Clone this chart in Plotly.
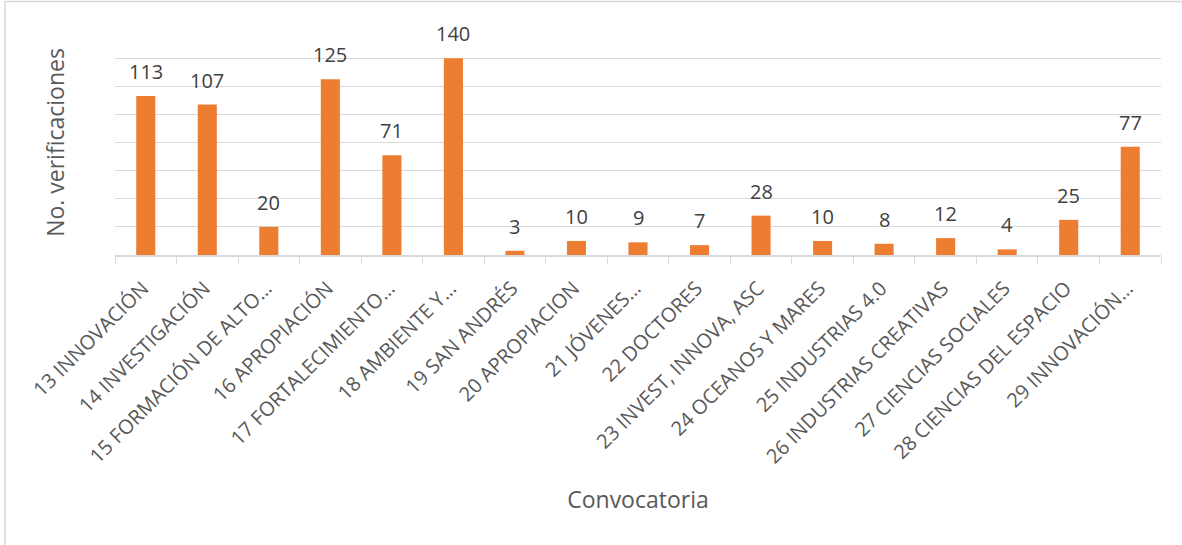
import plotly.graph_objects as go

categories = [
    "13 INNOVACIÓN", "14 INVESTIGACIÓN", "15 FORMACIÓN DE ALTO…", "16 APROPIACIÓN",
    "17 FORTALECIMIENTO…", "18 AMBIENTE Y…", "19 SAN ANDRÉS", "20 APROPIACION",
    "21 JÓVENES…", "22 DOCTORES", "23 INVEST, INNOVA, ASC", "24 OCEANOS Y MARES",
    "25 INDUSTRIAS 4.0", "26 INDUSTRIAS CREATIVAS", "27 CIENCIAS SOCIALES",
    "28 CIENCIAS DEL ESPACIO", "29 INNOVACIÓN…",
]
values = [113, 107, 20, 125, 71, 140, 3, 10, 9, 7, 28, 10, 8, 12, 4, 25, 77]

y_title = "No. verificaciones"
x_title = "Convocatoria"

W, H = 1182, 545
ML, MR, MT, MB = 115, 21, 30, 290
pw = W - ML - MR
ph = H - MT - MB

fig = go.Figure()
fig.add_trace(go.Bar(
    x=categories, y=values,
    marker=dict(color="#ED7D31", line=dict(width=0)),
    hoverinfo="x+y",
))

annotations = []
for c, v in zip(categories, values):
    annotations.append(dict(
        x=c, y=v, xref="x", yref="y", text=str(v), showarrow=False,
        yanchor="bottom", yshift=9,
        font=dict(family="Open Sans", size=20, color="#404040"),
    ))

fig.update_layout(
    width=W, height=H,
    margin=dict(l=ML, r=MR, t=MT, b=MB, pad=0, autoexpand=False),
    paper_bgcolor="white", plot_bgcolor="white",
    bargap=0.69,
    showlegend=False,
    annotations=annotations,
    font=dict(family="Open Sans", color="#595959"),
)
fig.update_yaxes(
    range=[0, 160], dtick=20, showticklabels=False,
    showgrid=True, gridcolor="#D9D9D9", gridwidth=1.3,
    zeroline=False, showline=False, ticks="",
    title=dict(text=y_title, font=dict(family="Open Sans", size=23, color="#595959"), standoff=42),
)
fig.update_xaxes(
    tickangle=-45, tickfont=dict(family="Open Sans", size=20, color="#595959"),
    ticklabelstandoff=12, ticklabelshift=-3,
    showline=True, linecolor="#D9D9D9", linewidth=1.5,
    ticks="outside", tickson="boundaries", ticklen=7, tickcolor="#D9D9D9", tickwidth=1.3,
    showgrid=False, automargin=False,
    title=dict(text=x_title, font=dict(family="Open Sans", size=23, color="#595959"), standoff=24),
)

# chart area border
fig.add_shape(
    type="rect", xref="paper", yref="paper",
    x0=(5 - ML) / pw, x1=(1190 - ML) / pw,
    y0=(MT + ph - 550) / ph, y1=(MT + ph - 1.5) / ph,
    line=dict(color="#D9D9D9", width=1.5), fillcolor="rgba(0,0,0,0)", layer="below",
)

fig.write_html("out.html", config={"displayModeBar": False},
               post_script="document.body.style.margin='0';")
